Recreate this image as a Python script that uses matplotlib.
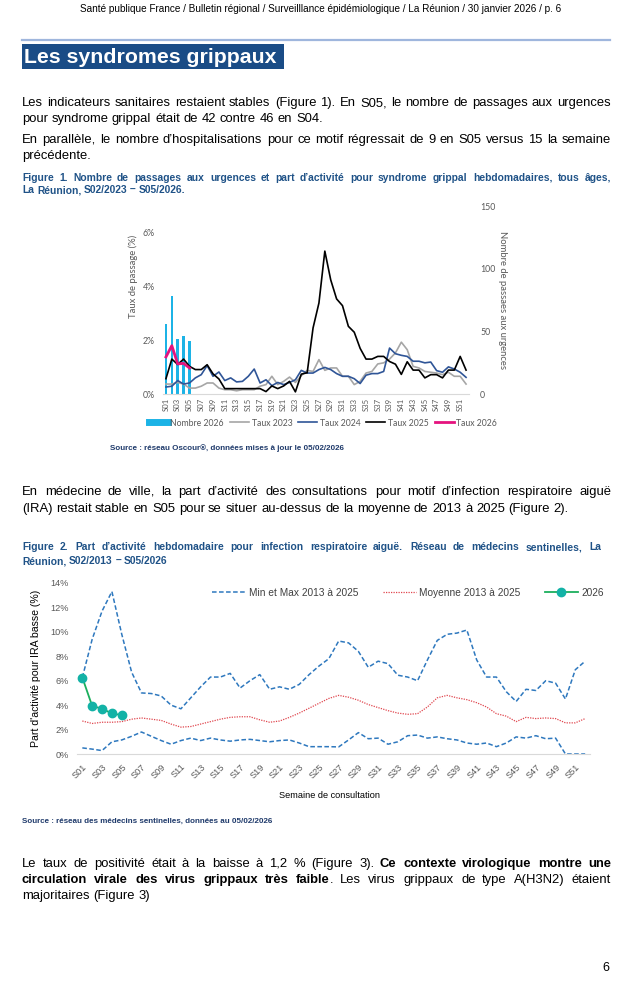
import matplotlib
matplotlib.use("Agg")
import matplotlib.pyplot as plt
from matplotlib import font_manager
from matplotlib.lines import Line2D
import numpy as np

W, H = 642, 1000

# ---------------- data ----------------
weeks = [f"S{i:02d}" for i in range(1, 53)]

nombre_2026 = [56, 78, 44, 46, 42]
taux_2023 = [0.37, 0.37, 0.43, 0.37, 0.22, 0.22, 0.29, 0.41, 0.41, 0.22,
             0.16, 0.16, 0.12, 0.16, 0.16, 0.16, 0.29, 0.35, 0.66, 0.35,
             0.47, 0.63, 0.43, 0.68, 0.88, 0.84, 1.28, 0.88, 0.97, 0.97,
             0.66, 0.66, 0.35, 0.47, 0.78, 0.84, 1.12, 1.16, 1.30, 1.53,
             1.93, 1.65, 1.03, 0.97, 0.84, 0.81, 0.78, 0.72, 0.81, 0.66,
             0.66, 0.37]
taux_2024 = [0.26, 0.29, 0.50, 0.37, 0.41, 0.60, 0.72, 1.06, 0.66, 0.82,
             0.50, 0.60, 0.45, 0.47, 0.66, 0.93, 0.41, 0.53, 0.31, 0.43,
             0.35, 0.43, 0.53, 0.88, 0.78, 0.78, 0.91, 0.99, 0.91, 0.76,
             0.66, 0.66, 0.57, 0.39, 0.70, 0.76, 0.76, 0.84, 1.71, 1.50,
             1.44, 1.40, 1.22, 1.22, 1.16, 1.19, 0.87, 0.81, 1.01, 0.93,
             0.81, 0.62]
taux_2025 = [0.57, 1.30, 1.10, 1.30, 1.03, 0.91, 0.91, 1.09, 0.75, 0.56,
             0.20, 0.20, 0.20, 0.20, 0.20, 0.20, 0.20, 0.09, 0.30, 0.20,
             0.30, 0.47, 0.08, 0.74, 0.79, 2.46, 3.39, 5.32, 4.25, 3.54,
             3.29, 2.52, 2.30, 1.70, 1.30, 1.30, 1.40, 1.40, 1.21, 1.11,
             0.73, 1.20, 0.89, 0.89, 0.60, 0.72, 0.72, 0.60, 0.89, 0.89,
             1.40, 0.89]
taux_2026 = [1.38, 1.80, 1.12, 1.14, 0.97]

ira_max = [6.26, 9.4, 11.7, 13.3, 9.8, 6.7, 5.0, 4.95, 4.75, 4.0,
           3.7, 4.6, 5.5, 6.3, 6.3, 6.6, 5.4, 6.0, 6.5, 5.3,
           5.5, 5.3, 5.7, 6.5, 7.2, 7.8, 9.25, 9.1, 8.4, 7.1,
           7.6, 7.4, 6.45, 6.3, 6.0, 7.7, 9.3, 9.8, 9.9, 10.15,
           7.7, 6.3, 6.3, 5.1, 4.3, 5.3, 5.2, 6.0, 5.8, 4.5,
           6.9, 7.6]
ira_min = [0.5, 0.4, 0.28, 1.0, 1.15, 1.45, 1.8, 1.45, 1.1, 0.8,
           1.1, 1.3, 1.1, 1.3, 1.15, 1.05, 1.15, 1.2, 1.1, 1.0,
           1.1, 1.15, 0.9, 0.6, 0.6, 0.6, 0.58, 1.15, 1.75, 1.25,
           1.3, 0.8, 1.0, 1.5, 1.55, 1.3, 1.4, 1.25, 1.15, 0.9,
           0.8, 0.9, 0.6, 0.9, 1.4, 1.3, 1.5, 1.25, 1.3, 0.0,
           0.0, 0.0]
ira_mean = [2.7, 2.5, 2.6, 2.6, 2.65, 2.85, 2.95, 2.85, 2.75, 2.45,
            2.2, 2.25, 2.45, 2.65, 2.85, 3.0, 3.05, 3.05, 2.8, 2.6,
            2.7, 3.0, 3.35, 3.75, 4.15, 4.55, 4.8, 4.65, 4.4, 4.05,
            3.8, 3.55, 3.35, 3.25, 3.3, 3.85, 4.6, 4.8, 4.6, 4.45,
            4.2, 3.85, 3.3, 3.1, 2.65, 3.0, 2.9, 2.95, 2.9, 2.55,
            2.55, 2.9]
ira_2026 = [6.26, 3.93, 3.71, 3.32, 3.18]

# ---------------- fonts ----------------
names = {f.name for f in font_manager.fontManager.ttflist}
BODY = "Liberation Sans Narrow" if "Liberation Sans Narrow" in names else "Liberation Sans"
C1F = "Lato" if "Lato" in names else "DejaVu Sans"

fig = plt.figure(figsize=(W / 100, H / 100), dpi=100)
renderer = fig.canvas.get_renderer()

def fx(x):
    return x / W

def fy(y):
    return 1 - y / H

def text_w(s, size, bold, family):
    t = fig.text(0, 0, s, fontsize=size, fontweight="bold" if bold else "normal", family=family)
    w = t.get_window_extent(renderer).width
    t.remove()
    return w

def parse_words(line):
    words = []
    bold = False
    for raw in line.split(" "):
        if raw == "":
            continue
        pieces = []
        parts = raw.split("**")
        for i, p in enumerate(parts):
            if i > 0:
                bold = not bold
            if p:
                pieces.append((p, bold))
        words.append(pieces)
    return words

def draw_line(line, x0, x1, y, size, family, color, justify, base_bold=False):
    y = round(y)
    words = parse_words(line)
    widths = [[text_w(p, size, b or base_bold, family) for p, b in w] for w in words]
    space = text_w("a a", size, base_bold, family) - text_w("aa", size, base_bold, family)
    total = sum(sum(ws) for ws in widths)
    n = len(words)
    gap = (x1 - x0 - total) / (n - 1) if (justify and n > 1) else space
    x = x0
    for pieces, ws in zip(words, widths):
        for (p, b), wv in zip(pieces, ws):
            fig.text(fx(round(x)), fy(y), p, fontsize=size, family=family, color=color,
                     fontweight="bold" if (b or base_bold) else "normal",
                     ha="left", va="baseline")
            x += wv
        x += gap

def paragraph(lines, y0, dy, size=9.4, family=BODY, color="black", bold=False, x0=22, x1=611):
    for i, ln in enumerate(lines):
        draw_line(ln, x0, x1, y0 + i * dy, size, family, color, justify=(i < len(lines) - 1),
                  base_bold=bold)

# ---------------- page text ----------------
fig.text(fx(321), fy(12), "Santé publique France / Bulletin régional / Surveilllance épidémiologique / La Réunion / 30 janvier 2026 / p. 6",
         fontsize=7.2, family=BODY, ha="center", va="baseline", color="black")
fig.add_artist(Line2D([fx(22), fx(610)], [fy(40), fy(40)], color="#9FB6DD", lw=1.6))
fig.add_artist(plt.Rectangle((fx(22), fy(69)), (284 - 22) / W, 25 / H, color="#1A4C86", lw=0))
fig.text(fx(24), fy(63), "Les syndromes grippaux", fontsize=15.3, family="Liberation Sans",
         fontweight="bold", color="white", ha="left", va="baseline")

paragraph(["Les indicateurs sanitaires restaient stables (Figure 1). En S05, le nombre de passages aux urgences",
           "pour syndrome grippal était de 42 contre 46 en S04."], 106, 16)
paragraph(["En parallèle, le nombre d’hospitalisations pour ce motif régressait de 9 en S05 versus 15 la semaine",
           "précédente."], 143, 16)
paragraph(["Figure 1. Nombre de passages aux urgences et part d’activité pour syndrome grippal hebdomadaires, tous âges,",
           "La Réunion, S02/2023 – S05/2026."], 181, 12, size=7.4, color="#1F5287", bold=True)

paragraph(["En médecine de ville, la part d’activité des consultations pour motif d’infection respiratoire aiguë",
           "(IRA) restait stable en S05 pour se situer au-dessus de la moyenne de 2013 à 2025 (Figure 2)."], 495, 17)
paragraph(["Figure 2. Part d’activité hebdomadaire pour infection respiratoire aiguë. Réseau de médecins sentinelles, La",
           "Réunion, S02/2013 – S05/2026"], 550, 14, size=7.4, color="#1F5287", bold=True, x1=601)

paragraph(["Le taux de positivité était à la baisse à 1,2 % (Figure 3). **Ce contexte virologique montre une**",
           "**circulation virale des virus grippaux très faible**. Les virus grippaux de type A(H3N2) étaient",
           "majoritaires (Figure 3)"], 867, 16)
fig.text(fx(609), fy(971), "6", fontsize=9, family=BODY, ha="right", va="baseline")

# ---------------- Figure 1 ----------------
x = np.arange(52)
ax1 = fig.add_axes([fx(163), fy(394), (469 - 163) / W, (394 - 206) / H])
ax1b = ax1.twinx()
ax1.set_zorder(ax1b.get_zorder() + 1)
ax1.patch.set_visible(False)

ax1b.bar(x[:len(nombre_2026)], nombre_2026, width=0.42, color="#1CB3E6", zorder=1)
ax1.plot(x, taux_2023, color="#A6A6A6", lw=1.2)
ax1.plot(x, taux_2024, color="#2F5597", lw=1.2)
ax1.plot(x, taux_2025, color="black", lw=1.2)
ax1.plot(x[:len(taux_2026)], taux_2026, color="#E5137E", lw=2.0)

ax1.set_xlim(-0.5, 51.5)
ax1.set_ylim(0, 7)
ax1b.set_ylim(0, 150)
ax1.set_yticks([0, 2, 4, 6])
ax1.set_yticklabels(["0%", "2%", "4%", "6%"])
ax1b.set_yticks([0, 50, 100, 150])
ax1.set_xticks(x[::2])
ax1.set_xticklabels(weeks[::2], rotation=90)
for a in (ax1, ax1b):
    for s in a.spines.values():
        s.set_visible(False)
    a.tick_params(length=0, colors="#595959", labelsize=6.3)
    for lab in a.get_xticklabels() + a.get_yticklabels():
        lab.set_family(C1F)
ax1.spines["bottom"].set_visible(True)
ax1.spines["bottom"].set_color("#D9D9D9")
ax1.tick_params(axis="y", pad=6)
ax1.tick_params(axis="x", pad=3, labelsize=5.6)
ax1b.tick_params(axis="y", pad=8)
fig.text(fx(133), fy(276), "Taux de passage (%)", rotation=90, fontsize=6.8, family=C1F,
         color="#595959", ha="center", va="center")
fig.text(fx(502), fy(300), "Nombre de passaes aux urgences", rotation=270, fontsize=6.8, family=C1F,
         color="#595959", ha="center", va="center")

h1 = [Line2D([], [], color="#1CB3E6", lw=5),
      Line2D([], [], color="#A6A6A6", lw=1.2),
      Line2D([], [], color="#2F5597", lw=1.2),
      Line2D([], [], color="black", lw=1.2),
      Line2D([], [], color="#E5137E", lw=2.0)]
fig.legend(h1, ["Nombre 2026", "Taux 2023", "Taux 2024", "Taux 2025", "Taux 2026"],
           loc="center", bbox_to_anchor=(fx(323), fy(423)), ncol=5, frameon=False,
           prop={"family": C1F, "size": 6.2}, labelcolor="#595959", handlelength=2.2,
           columnspacing=0.7, handletextpad=0.3)
fig.text(fx(110), fy(450), "Source : réseau Oscour®, données mises à jour le 05/02/2026",
         fontsize=5.8, family="Liberation Sans", fontweight="bold", color="#1F3A6B", ha="left", va="baseline")

# ---------------- Figure 2 ----------------
ax2 = fig.add_axes([fx(77.4), fy(754), (590.1 - 77.4) / W, (754 - 583) / H])
blue = "#2E78BE"
ax2.plot(x, ira_max, color=blue, lw=1.1, dashes=(3, 1.6))
ax2.plot(x, ira_min, color=blue, lw=1.1, dashes=(3, 1.6))
ax2.plot(x, ira_mean, color="#E0464E", lw=0.9, dashes=(1, 1))
ax2.plot(x[:len(ira_2026)], ira_2026, color="#1BAF5D", lw=1.3, marker="o", markersize=6,
         markerfacecolor="#13B2A6", markeredgecolor="#13B2A6")
ax2.set_xlim(-0.5, 51.5)
ax2.set_ylim(0, 14)
ax2.set_yticks(range(0, 15, 2))
ax2.set_yticklabels([f"{v}%" for v in range(0, 15, 2)])
ax2.set_xticks(x[::2])
ax2.set_xticklabels(weeks[::2], rotation=45, ha="right", rotation_mode="anchor")
for s in ax2.spines.values():
    s.set_visible(False)
ax2.spines["bottom"].set_visible(True)
ax2.spines["bottom"].set_color("#D9D9D9")
ax2.tick_params(length=0, colors="#595959", labelsize=6.6)
for lab in ax2.get_xticklabels() + ax2.get_yticklabels():
    lab.set_family(BODY)
ax2.tick_params(axis="x", pad=6)
ax2.tick_params(axis="y", pad=6)
fig.text(fx(36), fy(668), "Part d'activité pour IRA basse (%)", rotation=90, fontsize=7.6,
         family=BODY, color="black", ha="center", va="center")
fig.text(fx(330), fy(798), "Semaine de consultation", fontsize=6.6, family=BODY,
         color="black", ha="center", va="baseline")
h2 = [Line2D([], [], color=blue, lw=1.1, dashes=(3, 1.6)),
      Line2D([], [], color="#E0464E", lw=0.9, dashes=(1, 1)),
      Line2D([], [], color="#1BAF5D", lw=1.3, marker="o", markersize=6,
             markerfacecolor="#13B2A6", markeredgecolor="#13B2A6")]
fig.legend(h2, ["Min et Max 2013 à 2025", "Moyenne 2013 à 2025", "2026"],
           loc="center", bbox_to_anchor=(fx(408), fy(593)), ncol=3, frameon=False,
           prop={"family": BODY, "size": 7.3}, labelcolor="#404040", handlelength=3.3,
           columnspacing=2.4, handletextpad=0.3)
fig.text(fx(22), fy(823), "Source : réseau des médecins sentinelles, données au 05/02/2026",
         fontsize=5.8, family="Liberation Sans", fontweight="bold", color="#1F3A6B", ha="left", va="baseline")

fig.savefig("out.png", dpi=100)
